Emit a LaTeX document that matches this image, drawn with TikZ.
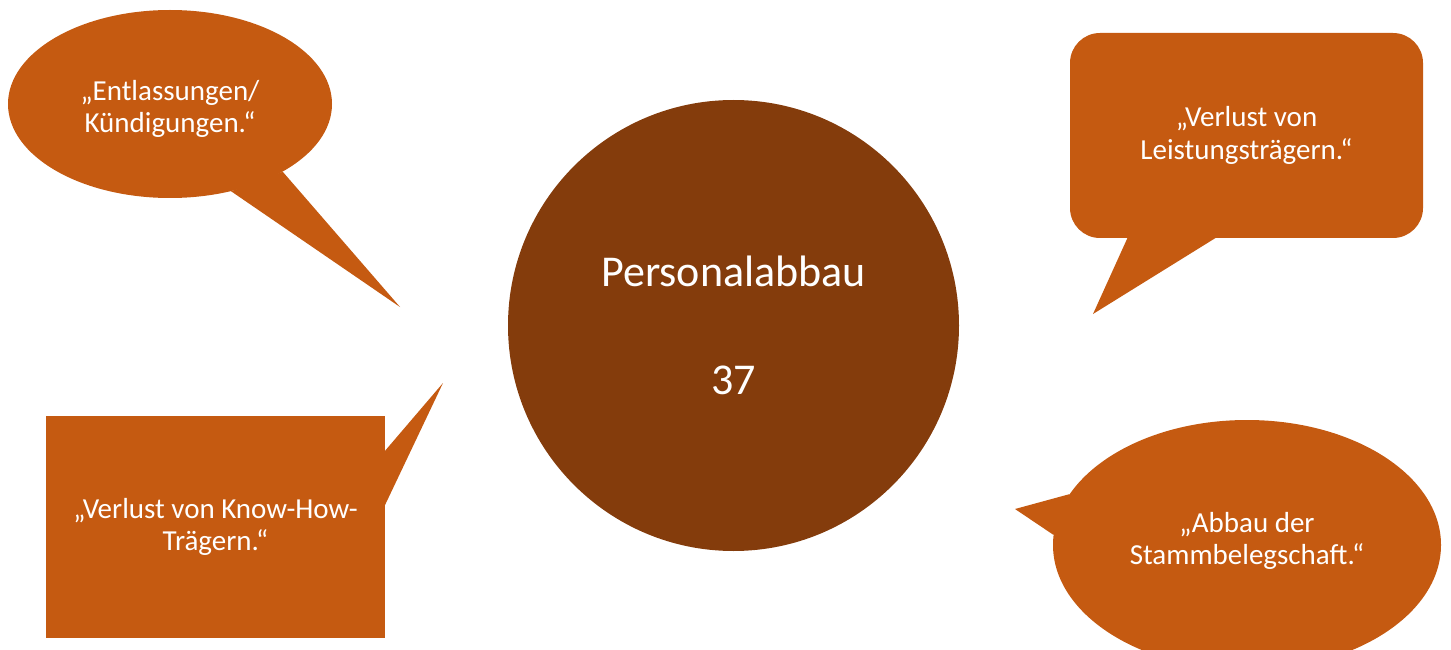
\documentclass[tikz,border=0pt]{standalone}
\usepackage{fontspec}
\setmainfont{Carlito}
\usetikzlibrary{shapes.geometric}

\definecolor{rost}{HTML}{C55A11}
\definecolor{braun}{HTML}{843C0C}

\begin{document}
\begin{tikzpicture}[x=1pt,y=1pt,
    bubble/.style={fill=rost, inner sep=0pt},
    bubbletext/.style={text=white, inner sep=0pt, align=center,
      font=\fontsize{29}{32.5}\selectfont}]
        \useasboundingbox (0,0) rectangle (1451,649);
        \clip (0,0) rectangle (1451,649);

        % the centre
        \node[circle, fill=braun, text=white, minimum size=451pt, inner sep=0pt,
          align=center, font=\fontsize{44}{54}\selectfont] (abbau) at (733.5,323.5)
          {Personalabbau\\[54pt]37};

        % the speech bubbles
        \node[bubble, ellipse, minimum width=324pt, minimum height=188pt] (entl) at (170,545) {};
        \node[bubble, rectangle, rounded corners=30pt, minimum width=353pt,
          minimum height=205pt] (lstg) at (1246.5,513.5) {};
        \node[bubble, rectangle, minimum width=339pt, minimum height=222pt] (know) at (215.5,122) {};
        \node[bubble, ellipse, minimum width=388pt, minimum height=250pt] (stamm) at (1247,104) {};

        % the tips point at the centre
        \coordinate (entltip) at (400,342);
        \coordinate (lstgtip) at (1093,335);
        \coordinate (knowtip) at (443,266);
        \coordinate (stammtip) at (1015,140);

        \fill[rost] (entl.-55) -- (entltip) -- (entl.-31) -- cycle;
        \fill[rost] ([xshift=58pt,yshift=1pt]lstg.south west) -- (lstgtip)
          -- ([xshift=147pt,yshift=1pt]lstg.south west) -- cycle;
        \fill[rost] ([xshift=-1pt,yshift=-36pt]know.north east) -- (knowtip)
          -- ([xshift=-1pt,yshift=-91pt]know.north east) -- cycle;
        \fill[rost] (stamm.164) -- (stammtip) -- (stamm.177) -- cycle;

        % texts
        \node[bubbletext] (entltext) at ([yshift=-5pt]entl.center) {„Entlassungen/\\Kündigungen.“};
        \node[bubbletext] (lstgtext) at (lstg.center) {„Verlust von\\Leistungsträgern.“};
        \node[bubbletext] (knowtext) at (know.center) {„Verlust von Know-How-\\Trägern.“};
        \node[bubbletext] (stammtext) at ([yshift=4pt]stamm.center) {„Abbau der\\Stammbelegschaft.“};
\end{tikzpicture}
\end{document}
